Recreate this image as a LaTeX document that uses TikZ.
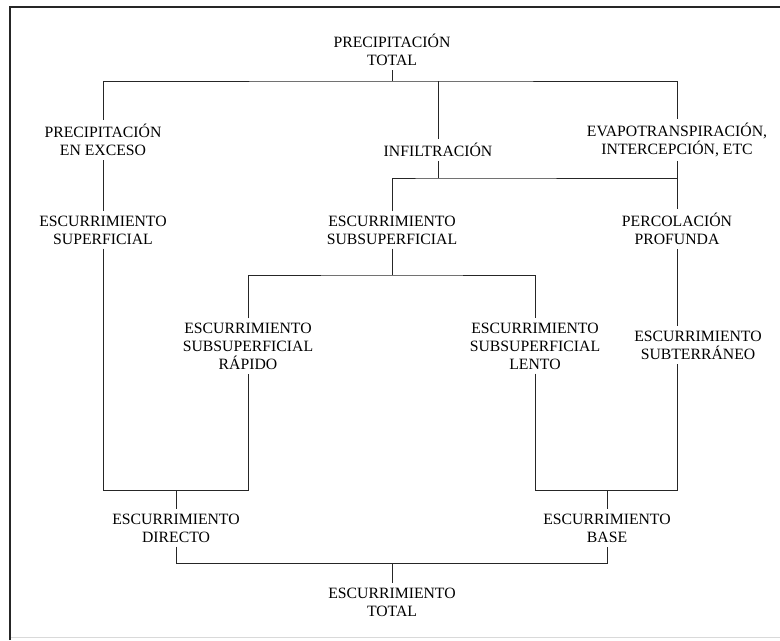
\documentclass[tikz,border=0pt]{standalone}
\usepackage{fontspec}
\setmainfont{Liberation Serif}
\usetikzlibrary{positioning}
\tikzset{
  txt/.style={align=center, inner sep=3pt, font=\fontsize{11.8}{13.5}\selectfont},
  link/.style={line width=0.6pt, black!85},
}

\begin{document}
\begin{tikzpicture}[x=0.75pt, y=-0.75pt]
  \useasboundingbox (0,0) rectangle (780,640);

  % Frame
  \draw[line width=1.5pt, black!85] (10,640) -- (10,6.5) -- (780,6.5);
  \draw[black!15] (11,637.5) -- (780,637.5);

  % Precipitation
  \node[txt] (ptotal) at (392,50) {PRECIPITACIÓN\\TOTAL};
  \node[txt] (pexceso) at (103,140) {PRECIPITACIÓN\\EN EXCESO};
  \node[txt] (infil) at (438,150) {INFILTRACIÓN};
  \node[txt] (evapo) at (677,140) {EVAPOTRANSPIRACIÓN,\\INTERCEPCIÓN, ETC};

  % Runoff
  \node[txt] (esup) at (103,230) {ESCURRIMIENTO\\SUPERFICIAL};
  \node[txt] (esub) at (392,230) {ESCURRIMIENTO\\SUBSUPERFICIAL};
  \node[txt] (perc) at (677,229) {PERCOLACIÓN\\PROFUNDA};
  \node[txt] (erap) at (248,346) {ESCURRIMIENTO\\SUBSUPERFICIAL\\RÁPIDO};
  \node[txt] (elen) at (535,346) {ESCURRIMIENTO\\SUBSUPERFICIAL\\LENTO};
  \node[txt] (esubt) at (698,345) {ESCURRIMIENTO\\SUBTERRÁNEO};
  \node[txt] (edir) at (176,528) {ESCURRIMIENTO\\DIRECTO};
  \node[txt] (ebase) at (607,528) {ESCURRIMIENTO\\BASE};
  \node[txt] (etotal) at (392,602) {ESCURRIMIENTO\\TOTAL};

  % Junctions
  \coordinate (j1) at (392,81);
  \coordinate (j2) at (438,178);
  \coordinate (j3) at (392,275);
  \coordinate (j4) at (176,490);
  \coordinate (j5) at (607,490);
  \coordinate (j6) at (392,563);

  % Lines
  \draw[link] (ptotal) -- (j1);
  \draw[link] (pexceso) |- (j1) -| (evapo);
  \draw[link] (j1 -| infil) -- (infil);
  \draw[link] (infil) -- (j2);
  \draw[link] (esub) |- (j2) -| (perc);
  \draw[link] (evapo) -- (perc);
  \draw[link] (pexceso) -- (esup);
  \draw[link] (esub) -- (j3);
  \draw[link] (erap) |- (j3) -| (elen);
  \draw[link] (perc.south) -- (perc.south |- esubt.north);
  \draw[link] (esup) |- (j4) -| (erap);
  \draw[link] (j4) -- (edir);
  \draw[link] (elen) |- (j5) -| (perc.south |- esubt.south);
  \draw[link] (j5) -- (ebase);
  \draw[link] (edir) |- (j6) -| (ebase);
  \draw[link] (j6) -- (etotal);

\end{tikzpicture}
\end{document}
